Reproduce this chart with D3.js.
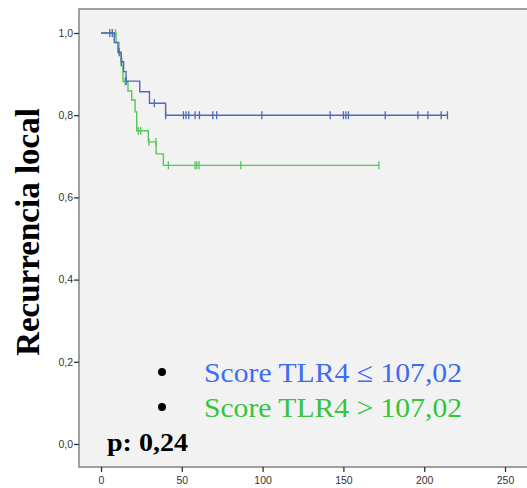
<!DOCTYPE html>
<html>
<head>
<meta charset="utf-8">
<script src="https://cdn.jsdelivr.net/npm/d3@7"></script>
<style>
  body { margin: 0; background: #fff; }
  svg { display: block; }
</style>
</head>
<body>
<div id="chart"></div>
<script>
// Kaplan-Meier steps (time, survival after the event)
const blueSteps = [[0, 1.0], [8.2, 0.977], [10.5, 0.953], [12.5, 0.930], [14, 0.906],
    [15.5, 0.883], [24, 0.857], [30, 0.829], [40, 0.800]];
const blueEnd = 214.4;
const blueCensored = [5.5, 7, 11.3, 12.8, 15.6, 33, 40, 51, 52.6, 54.3, 58.2, 60.9, 69.2, 71.6,
    99.5, 141.8, 150, 151.5, 153.1, 175.9, 196.1, 202.3, 210.5, 214.4];

const greenSteps = [[0, 1.0], [9.3, 0.977], [11.1, 0.950], [12.4, 0.920], [13.6, 0.882],
    [16.7, 0.859], [19, 0.837], [21.1, 0.808], [22.1, 0.762], [29.3, 0.735], [34.1, 0.706],
    [38.6, 0.678]];
const greenEnd = 172;
const greenCensored = [9, 14.9, 23.1, 24.6, 29.7, 34, 41.7, 58.2, 59.3, 60.7, 86.5, 172];

const xTicks = [0, 50, 100, 150, 200, 250];
const yTicks = [0, 0.2, 0.4, 0.6, 0.8, 1.0];
const legendItems = ['Score TLR4 \u2264 107,02', 'Score TLR4 > 107,02'];

const width = 527, height = 488;
const frame = {left: 79, top: 9, bottom: 467};

const x = d3.scaleLinear().domain([0, 250]).range([101, 505]);
const y = d3.scaleLinear().domain([0, 1]).range([444, 33]);

const svg = d3.select('#chart').append('svg')
    .attr('width', width)
    .attr('height', height);

// plot background + frame
svg.append('rect')
    .attr('x', frame.left)
    .attr('y', frame.top)
    .attr('width', width - frame.left + 5)
    .attr('height', frame.bottom - frame.top)
    .attr('fill', '#f2f2f2')
    .attr('stroke', '#8a8a8a')
    .attr('stroke-width', 1.6);

// axes
const yAxis = d3.axisLeft(y)
    .tickValues(yTicks)
    .tickSize(5)
    .tickFormat(d => d3.format('.1f')(d).replace('.', ','));
const gy = svg.append('g')
    .attr('transform', `translate(${frame.left},0)`)
    .call(yAxis);

const xAxis = d3.axisBottom(x)
    .tickValues(xTicks)
    .tickSize(5);
const gx = svg.append('g')
    .attr('transform', `translate(0,${frame.bottom})`)
    .call(xAxis);

[gx, gy].forEach(g => {
    g.select('.domain').remove();
    g.selectAll('line').attr('stroke', '#333').attr('stroke-width', 1.3);
    g.selectAll('text')
        .attr('fill', '#333')
        .style('font-family', 'Liberation Sans, Arial, sans-serif')
        .style('font-size', '10.5px');
});
gy.selectAll('text').attr('x', -6);
gx.selectAll('text').attr('y', 10);

// y title
svg.append('text')
    .attr('transform', 'translate(39,232) rotate(-90)')
    .attr('text-anchor', 'middle')
    .style('font-family', 'Liberation Serif, Times New Roman, serif')
    .style('font-weight', 'bold')
    .style('font-size', '33px')
    .attr('fill', '#000')
    .text('Recurrencia local');

// curves
const stepLine = d3.line()
    .x(d => x(d[0]))
    .y(d => y(d[1]))
    .curve(d3.curveStepAfter);

function lastValue(steps, t) {
    let v = steps[0][1];
    steps.forEach(s => { if (s[0] <= t) v = s[1]; });
    return v;
}

function drawCurve(steps, end, censored, color) {
    const pts = steps.concat([[end, steps[steps.length - 1][1]]]);
    svg.append('path')
        .datum(pts)
        .attr('d', stepLine)
        .attr('fill', 'none')
        .attr('stroke', color)
        .attr('stroke-width', 1.4);

    svg.append('g')
        .selectAll('line')
        .data(censored)
        .join('line')
        .attr('x1', d => x(d))
        .attr('x2', d => x(d))
        .attr('y1', d => y(lastValue(steps, d)) - 4)
        .attr('y2', d => y(lastValue(steps, d)) + 4)
        .attr('stroke', color)
        .attr('stroke-width', 1.3);
}

drawCurve(greenSteps, greenEnd, greenCensored, '#55c65a');
drawCurve(blueSteps, blueEnd, blueCensored, '#5068bc');

// legend
const legendColors = ['#3d6cf2', '#35c43a'];
const legend = svg.append('g');
legendItems.forEach((txt, i) => {
    legend.append('circle')
        .attr('cx', 162)
        .attr('cy', 372 + i * 35)
        .attr('r', 4)
        .attr('fill', '#000');
    legend.append('text')
        .attr('x', 204)
        .attr('y', 382 + i * 35)
        .attr('textLength', 258)
        .attr('lengthAdjust', 'spacingAndGlyphs')
        .style('font-family', 'Liberation Serif, Times New Roman, serif')
        .style('font-size', '28px')
        .attr('fill', legendColors[i])
        .text(txt);
});

svg.append('text')
    .attr('x', 107)
    .attr('y', 451)
    .attr('textLength', 81)
    .attr('lengthAdjust', 'spacingAndGlyphs')
    .style('font-family', 'Liberation Serif, Times New Roman, serif')
    .style('font-weight', 'bold')
    .style('font-size', '25px')
    .attr('fill', '#000')
    .text('p: 0,24');
</script>
</body>
</html>
